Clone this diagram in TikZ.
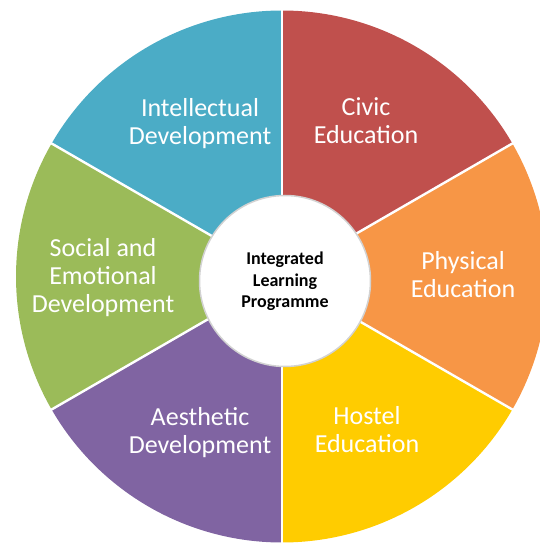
\documentclass[tikz,border=0pt]{standalone}
\usepackage{fontspec}
\setmainfont{Carlito}
\definecolor{cblue}{HTML}{4BACC6}
\definecolor{cred}{HTML}{C0504D}
\definecolor{corange}{HTML}{F79646}
\definecolor{cyellow}{HTML}{FFCC00}
\definecolor{cpurple}{HTML}{8064A2}
\definecolor{cgreen}{HTML}{9BBB59}
\begin{document}
\begin{tikzpicture}[x=1pt,y=1pt,
  lbl/.style={text=white,font=\fontsize{26}{28}\selectfont,inner sep=0pt,anchor=base},
  ctr/.style={text=black,font=\fontsize{18}{21.5}\selectfont\bfseries,inner sep=0pt,anchor=base},
  divider/.style={draw=white,line width=2.4pt}]
\useasboundingbox (0,0) rectangle (540,544);
\clip (0,0) rectangle (540,544);
\coordinate (O) at (282,267.5);
\def\R{266}
\fill[cred]    (O) -- ++(30:\R)  arc (30:90:\R)   -- cycle;
\fill[cblue]   (O) -- ++(90:\R)  arc (90:150:\R)  -- cycle;
\fill[cgreen]  (O) -- ++(150:\R) arc (150:210:\R) -- cycle;
\fill[cpurple] (O) -- ++(210:\R) arc (210:270:\R) -- cycle;
\fill[cyellow] (O) -- ++(270:\R) arc (270:330:\R) -- cycle;
\fill[corange] (O) -- ++(330:\R) arc (330:390:\R) -- cycle;
\foreach \a in {30,90,150,210,270,330}{
  \draw[divider] (O) -- ++(\a:\R+2);
}
\node[circle,fill=white,draw=gray!35,line width=1.5pt,minimum size=171pt,inner sep=0pt] (hub) at (285,263) {};
\node[ctr] (c1) at (285,279) {Integrated};
\node[ctr] (c2) at (285,257.5) {Learning};
\node[ctr] (c3) at (285,236) {Programme};
\node[lbl] (i1) at (200,427.5) {Intellectual};
\node[lbl] (i2) at (200,399.5) {Development};
\node[lbl] (v1) at (366,428.5) {Civic};
\node[lbl] (v2) at (366,400.5) {Education};
\node[lbl] (s1) at (103,287.5) {Social and};
\node[lbl] (s2) at (103,259.5) {Emotional};
\node[lbl] (s3) at (103,231.5) {Development};
\node[lbl] (p1) at (463,274) {Physical};
\node[lbl] (p2) at (463,246) {Education};
\node[lbl] (a1) at (200,118) {Aesthetic};
\node[lbl] (a2) at (200,90) {Development};
\node[lbl] (h1) at (367,119) {Hostel};
\node[lbl] (h2) at (367,91) {Education};
\end{tikzpicture}
\end{document}
